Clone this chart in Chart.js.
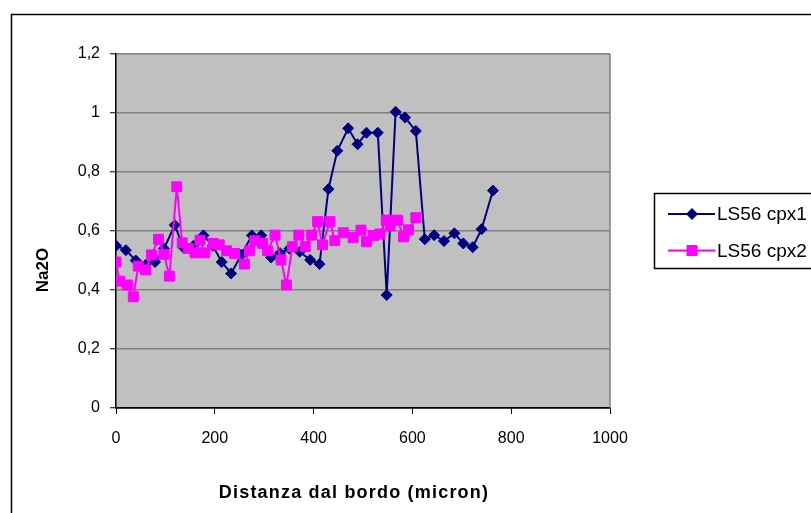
<!DOCTYPE html>
<html>
<head>
<meta charset="utf-8">
<script src="https://cdn.jsdelivr.net/npm/chart.js@4/dist/chart.umd.min.js"></script>
<style>
  html, body { margin: 0; padding: 0; background: #fff; }
  #wrap { width: 811px; height: 513px; }
</style>
</head>
<body>
<div id="wrap"><canvas id="naChart" width="811" height="513"></canvas></div>
<script>
// LS56 cpx1 (navy diamonds)
const cpx1X = [0, 20, 40, 60, 79, 97, 119, 136, 157, 177, 196, 214, 233, 254, 275, 294, 314, 332, 351, 372,
               393, 412, 430, 448, 470, 489, 507, 530, 548, 566, 585, 607, 625, 644, 664, 685, 703, 722, 740, 763];
const cpx1Y = [0.55, 0.535, 0.50, 0.485, 0.495, 0.54, 0.62, 0.545, 0.55, 0.585, 0.55, 0.495, 0.456, 0.52, 0.585, 0.585, 0.51, 0.525, 0.54, 0.53,
               0.502, 0.488, 0.742, 0.872, 0.948, 0.894, 0.933, 0.933, 0.383, 1.004, 0.985, 0.939, 0.572, 0.586, 0.566, 0.592, 0.558, 0.545, 0.606, 0.737];

// LS56 cpx2 (magenta squares)
const cpx2X = [0, 7, 23, 35, 45, 60, 72, 86, 97, 108, 123, 134, 146, 160, 170, 180, 197, 209, 224, 240,
               260, 270, 281, 297, 307, 322, 334, 345, 357, 370, 383, 396, 408, 418, 433, 443, 460, 480, 496, 507,
               521, 534, 547, 555, 570, 582, 592, 607];
const cpx2Y = [0.495, 0.43, 0.417, 0.377, 0.481, 0.468, 0.519, 0.572, 0.521, 0.447, 0.75, 0.56, 0.541, 0.526, 0.569, 0.526, 0.558, 0.553, 0.533, 0.524,
               0.488, 0.533, 0.567, 0.558, 0.533, 0.586, 0.502, 0.417, 0.547, 0.586, 0.547, 0.586, 0.632, 0.553, 0.632, 0.567, 0.594, 0.578, 0.603, 0.564,
               0.585, 0.59, 0.637, 0.617, 0.637, 0.58, 0.604, 0.645];

const xTicks = [0, 200, 400, 600, 800, 1000];
const yTicks = [0, 0.2, 0.4, 0.6, 0.8, 1, 1.2];
const seriesLabels = ['LS56 cpx1', 'LS56 cpx2'];
const seriesColors = ['#000080', '#FF00FF'];
const xTitle = 'Distanza dal bordo (micron)';
const yTitle = 'Na2O';

const FONT = '"Liberation Sans", Arial, sans-serif';

function toPoints(xs, ys) {
    return xs.map((x, i) => ({ x: x, y: ys[i] }));
}

// background, outer frame, legend and axis titles
const excelFrame = {
    id: 'excelFrame',
    beforeDraw(chart) {
        const ctx = chart.ctx;
        const a = chart.chartArea;
        ctx.save();
        ctx.fillStyle = '#ffffff';
        ctx.fillRect(0, 0, chart.width, chart.height);
        ctx.strokeStyle = '#000';
        ctx.lineWidth = 1.5;
        ctx.strokeRect(11.5, 14.5, 900, 600);
        ctx.fillStyle = '#C0C0C0';
        ctx.fillRect(a.left, a.top, a.right - a.left, a.bottom - a.top);
        ctx.restore();
    },
    afterDraw(chart) {
        const ctx = chart.ctx;
        const a = chart.chartArea;
        ctx.save();
        // right edge of plot area
        ctx.strokeStyle = '#808080';
        ctx.lineWidth = 1.5;
        ctx.beginPath();
        ctx.moveTo(a.right, a.top);
        ctx.lineTo(a.right, a.bottom);
        ctx.stroke();

        // legend
        ctx.strokeStyle = '#000';
        ctx.lineWidth = 1.5;
        ctx.strokeRect(654.5, 193.5, 200, 75);
        const rows = [214, 250.5];
        chart.data.datasets.forEach((ds, i) => {
            const y = rows[i];
            ctx.strokeStyle = ds.borderColor;
            ctx.lineWidth = 2;
            ctx.beginPath();
            ctx.moveTo(668, y);
            ctx.lineTo(715, y);
            ctx.stroke();
            ctx.fillStyle = ds.backgroundColor;
            ctx.beginPath();
            if (ds.pointStyle === 'rectRot') {
                ctx.moveTo(692, y - 6);
                ctx.lineTo(698, y);
                ctx.lineTo(692, y + 6);
                ctx.lineTo(686, y);
                ctx.closePath();
            } else {
                ctx.rect(686.5, y - 5.5, 11, 11);
            }
            ctx.fill();
            ctx.fillStyle = '#000';
            ctx.font = '19px ' + FONT;
            ctx.textAlign = 'left';
            ctx.textBaseline = 'middle';
            ctx.fillText(ds.label, 717, y + 1);
        });

        // axis titles
        ctx.fillStyle = '#000';
        ctx.textAlign = 'center';
        ctx.textBaseline = 'middle';
        ctx.font = 'bold 18px ' + FONT;
        ctx.letterSpacing = '1.2px';
        ctx.fillText(xTitle, 354, 493);
        ctx.letterSpacing = '0px';
        ctx.font = 'bold 17px ' + FONT;
        ctx.translate(43, 270);
        ctx.rotate(-Math.PI / 2);
        ctx.fillText(yTitle, 0, 0);
        ctx.restore();
    }
};

new Chart(document.getElementById('naChart'), {
    type: 'scatter',
    data: {
        datasets: [
            {
                label: seriesLabels[0],
                data: toPoints(cpx1X, cpx1Y),
                showLine: true,
                borderColor: seriesColors[0],
                backgroundColor: seriesColors[0],
                borderWidth: 2,
                pointStyle: 'rectRot',
                pointRadius: 5.5,
                pointBorderWidth: 1,
                order: 1
            },
            {
                label: seriesLabels[1],
                data: toPoints(cpx2X, cpx2Y),
                showLine: true,
                borderColor: seriesColors[1],
                backgroundColor: seriesColors[1],
                borderWidth: 2,
                pointStyle: 'rect',
                pointRadius: 7,
                pointBorderWidth: 1,
                order: 0
            }
        ]
    },
    options: {
        responsive: false,
        animation: false,
        devicePixelRatio: 1,
        layout: { padding: { left: 0, top: 54, right: 201, bottom: 0 } },
        plugins: {
            legend: { display: false },
            tooltip: { enabled: false }
        },
        scales: {
            x: {
                type: 'linear',
                min: 0,
                max: 1000,
                afterBuildTicks: (scale) => { scale.ticks = xTicks.map(v => ({ value: v })); },
                afterFit: (scale) => { scale.height = 105; },
                grid: { drawOnChartArea: false, drawTicks: true, tickLength: 6, tickColor: '#000', tickWidth: 1 },
                border: { color: '#000', width: 1.5 },
                ticks: {
                    color: '#000',
                    padding: 15,
                    font: { family: FONT, size: 16 },
                    maxRotation: 0,
                    callback: (v) => String(v)
                }
            },
            y: {
                min: 0,
                max: 1.2,
                afterBuildTicks: (scale) => { scale.ticks = yTicks.map(v => ({ value: v })); },
                afterFit: (scale) => { scale.width = 116; },
                grid: {
                    color: (c) => c.tick && c.tick.value === 0 ? '#000' : '#808080',
                    lineWidth: 1.5,
                    drawTicks: true,
                    tickLength: 6,
                    tickColor: '#000',
                    tickWidth: 1
                },
                border: { color: '#000', width: 1.5 },
                ticks: {
                    color: '#000',
                    padding: 10,
                    font: { family: FONT, size: 16 },
                    callback: (v) => String(v).replace('.', ',')
                }
            }
        }
    },
    plugins: [excelFrame]
});
</script>
</body>
</html>
